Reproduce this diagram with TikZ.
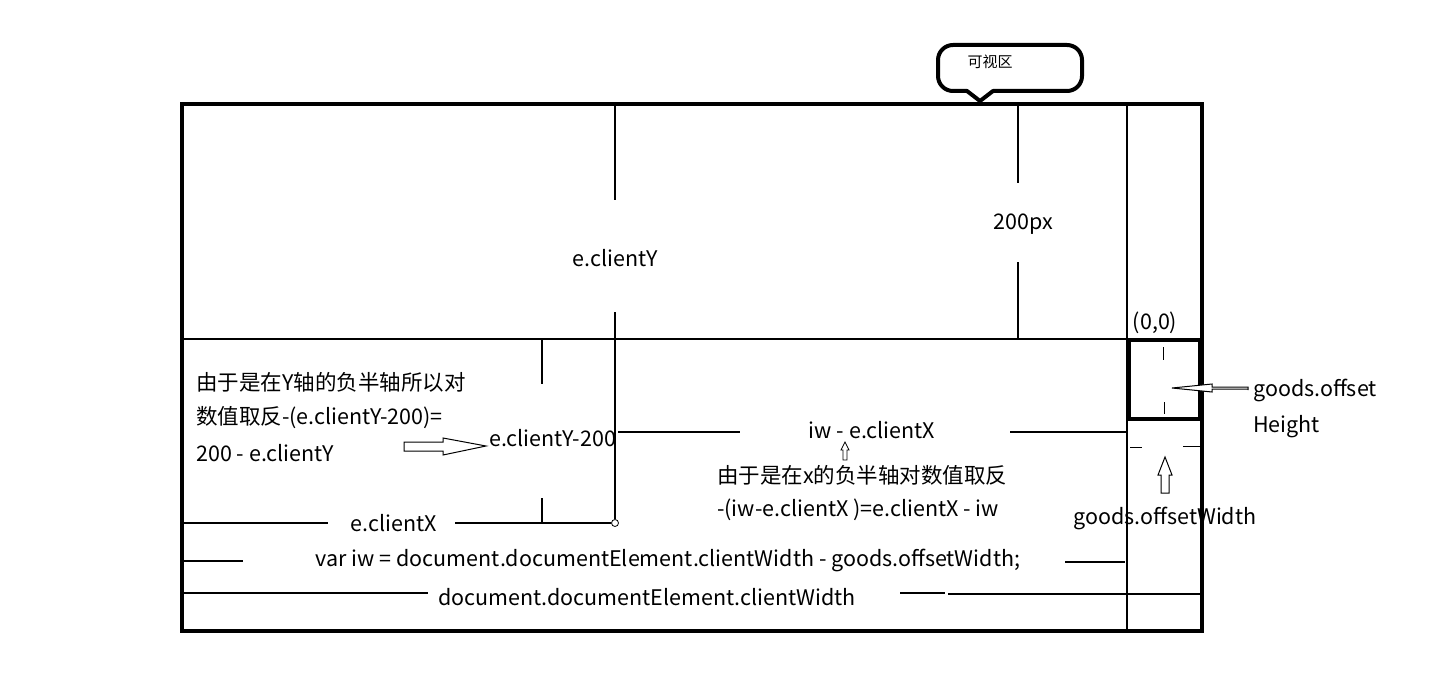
\documentclass[tikz,border=0pt]{standalone}
\usepackage{fontspec}
\setmainfont{Noto Sans CJK SC}
\begin{document}
\begin{tikzpicture}[x=1pt,y=-1pt,
  txt/.style={font=\fontsize{21.5}{24}\selectfont, inner sep=0pt},
  thin line/.style={line width=1.1pt},
  frame/.style={line width=4.5pt},
  hollow/.style={line width=1pt, fill=white, line join=miter}]
\useasboundingbox (0,0) rectangle (1431,674);
\fill[white] (0,0) rectangle (1431,674);

% main frame
\coordinate (TL) at (182,104);
\coordinate (BR) at (1202,631);
\draw[frame] (TL) rectangle (BR);

% callout
\node[font=\fontsize{15}{17}\selectfont, inner sep=0pt] (kxq) at (990,62) {可视区};
\draw[line width=4pt, line join=round] (980,101) -- (993,91)
  [rounded corners=15] -- (1082,91) -- (1082,45) -- (938,45) -- (938,91)
  [sharp corners] -- (967,91) -- cycle;

% vertical line at right (goods column)
\coordinate (vc1) at (1127,106);
\coordinate (vc2) at (1127,629);
\draw[thin line] (vc1) -- (vc2);

% 200px
\node[txt] (px) at (1023,224) {200px};
\coordinate (px1) at (1018,106);
\coordinate (px2) at (1018,183);
\coordinate (px3) at (1018,262);
\coordinate (px4) at (1018,338);
\draw[thin line] (px1) -- (px2);
\draw[thin line] (px3) -- (px4);

% horizontal line y=338
\coordinate (h1a) at (184,339);
\coordinate (h1b) at (1127,339);
\draw[thin line] (h1a) -- (h1b);

% e.clientY
\node[txt] (ecy) at (615,258) {e.clientY};
\coordinate (cy1) at (615,106);
\coordinate (cy2) at (615,200);
\coordinate (cy3) at (615,312);
\node[circle, draw, line width=0.8pt, inner sep=0pt, minimum size=7pt, fill=white] (pt) at (615,523) {};
\draw[thin line] (cy1) -- (cy2);
\draw[thin line] (cy3) -- (pt.north);

% x=542 ticks
\coordinate (t1) at (542,339);
\coordinate (t2) at (542,384);
\coordinate (t3) at (542,498);
\coordinate (t4) at (542,523);
\draw[thin line] (t1) -- (t2);
\draw[thin line] (t3) -- (t4);

% goods box
\coordinate (gb1) at (1129,340);
\coordinate (gb2) at (1200,419);
\draw[line width=4pt] (gb1) rectangle (gb2);
\node[txt] (org) at (1155,323) {(0,0)};
\coordinate (gd1) at (1163,347);
\coordinate (gd2) at (1163,360);
\coordinate (gd3) at (1164,402);
\coordinate (gd4) at (1164,414);
\draw[line width=0.9pt] (gd1) -- (gd2);
\draw[line width=0.9pt] (gd3) -- (gd4);

% goods.offsetHeight
\node[txt, anchor=west] (goh1) at (1253,390) {goods.offset};
\node[txt, anchor=west] (goh2) at (1253,427) {Height};
\draw[hollow] (goh1.west) ++(-5,0) coordinate (ha)
  -- ++(0,-3) -- (1212,387) -- (1212,384) -- (1172,388) -- (1212,392) -- (1212,389) -- (1248,389) -- cycle;

% below box dashes
\coordinate (bd1) at (1130,447);
\coordinate (bd2) at (1142,447);
\coordinate (bd3) at (1183,446);
\coordinate (bd4) at (1200,446);
\draw[line width=0.9pt] (bd1) -- (bd2);
\draw[line width=0.9pt] (bd3) -- (bd4);

% goods.offsetWidth
\node[txt] (gow) at (1165,518) {goods.offsetWidth};
\draw[hollow] (1161,493) -- (1161,475) -- (1158,475) -- (1165,457) -- (1172,475) -- (1169,475) -- (1169,493) -- cycle;

% left explanation
\node[txt, anchor=west] (l1) at (196,382) {由于是在Y轴的负半轴所以对};
\node[txt, anchor=west] (l2) at (196,418) {数值取反-(e.clientY-200)=};
\node[txt, anchor=west] (l3) at (196,453) {200 - e.clientY};
\node[txt, anchor=west] (ecy2) at (489,438) {e.clientY-200};
\draw[hollow] (404,442) -- (443,442) -- (443,438) -- (486,446) -- (443,455) -- (443,451) -- (404,451) -- cycle;

% iw - e.clientX
\node[txt] (iwx) at (872,430) {iw - e.clientX};
\coordinate (iw1) at (618,432);
\coordinate (iw2) at (740,432);
\coordinate (iw3) at (1010,432);
\coordinate (iw4) at (1127,432);
\draw[thin line] (iw1) -- (iw2);
\draw[thin line] (iw3) -- (iw4);
\draw[line width=0.8pt, fill=white] (843,460) -- (843,450) -- (841,450) -- (845,442) -- (849,450) -- (847,450) -- (847,460) -- cycle;

\node[txt, anchor=west] (r1) at (717,475) {由于是在x的负半轴对数值取反};
\node[txt, anchor=west] (r2) at (717,510) {-(iw-e.clientX )=e.clientX - iw};

% e.clientX
\node[txt] (ecx) at (394,523) {e.clientX};
\coordinate (cx1) at (184,523);
\coordinate (cx2) at (328,523);
\coordinate (cx3) at (455,523);
\draw[thin line] (cx1) -- (cx2);
\draw[thin line] (cx3) -- (pt.west);

% var iw
\node[txt] (vardef) at (668,560) {var iw = document.documentElement.clientWidth - goods.offsetWidth;};
\coordinate (v1) at (184,561);
\coordinate (v2) at (243,561);
\coordinate (v3) at (1065,562);
\coordinate (v4) at (1125,562);
\draw[thin line] (v1) -- (v2);
\draw[thin line] (v3) -- (v4);

% document.documentElement.clientWidth
\node[txt] (dcw) at (647,597) {document.documentElement.clientWidth};
\coordinate (d1) at (184,593);
\coordinate (d2) at (428,593);
\coordinate (d3) at (900,593);
\coordinate (d4) at (945,593);
\coordinate (d5) at (948,594);
\coordinate (d6) at (1200,594);
\draw[thin line] (d1) -- (d2);
\draw[thin line] (d3) -- (d4);
\draw[thin line] (d5) -- (d6);
\end{tikzpicture}
\end{document}
